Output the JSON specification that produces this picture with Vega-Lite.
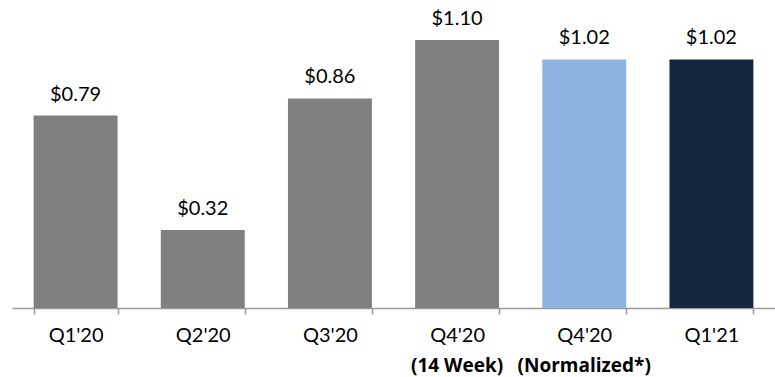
{
  "$schema": "https://vega.github.io/schema/vega-lite/v6.json",
  "width": 763,
  "height": 268,
  "autosize": {"type": "none"},
  "padding": {"left": 12, "top": 40, "right": 0, "bottom": 69},
  "background": "white",
  "config": {"view": {"stroke": null}},
  "data": {
    "values": [
      {"cat": "Q1'20", "sub": "", "eps": 0.79, "label": "$0.79", "grp": "a"},
      {"cat": "Q2'20", "sub": "", "eps": 0.32, "label": "$0.32", "grp": "a"},
      {"cat": "Q3'20", "sub": "", "eps": 0.86, "label": "$0.86", "grp": "a"},
      {"cat": "Q4'20|a", "sub": "(14 Week)", "eps": 1.10, "label": "$1.10", "grp": "a"},
      {"cat": "Q4'20|b", "sub": "(Normalized*)", "eps": 1.02, "label": "$1.02", "grp": "b"},
      {"cat": "Q1'21", "sub": "", "eps": 1.02, "label": "$1.02", "grp": "c"}
    ]
  },
  "encoding": {
    "x": {
      "field": "cat",
      "type": "nominal",
      "sort": null,
      "scale": {"paddingInner": 0.34, "paddingOuter": 0.17},
      "axis": {
        "title": null,
        "labelAngle": 0,
        "labelExpr": "split(datum.label, '|')[0]",
        "labelFont": "Lato",
        "labelFontSize": 20,
        "labelColor": "#000000",
        "labelPadding": 11,
        "labelBaseline": "top",
        "domainColor": "#9a9a9a",
        "domainWidth": 1.5,
        "tickColor": "#9a9a9a",
        "tickWidth": 1.5,
        "tickSize": 6,
        "tickBand": "extent",
        "grid": false
      }
    },
    "y": {
      "field": "eps",
      "type": "quantitative",
      "scale": {"domain": [0, 1.1], "nice": false},
      "axis": null
    }
  },
  "layer": [
    {
      "mark": {"type": "bar"},
      "encoding": {
        "color": {
          "field": "grp",
          "type": "nominal",
          "scale": {"domain": ["a", "b", "c"], "range": ["#808080", "#8EB4E3", "#13263F"]},
          "legend": null
        }
      }
    },
    {
      "mark": {"type": "text", "font": "Lato", "fontSize": 20, "dy": -15, "baseline": "alphabetic", "color": "#000000"},
      "encoding": {"text": {"field": "label"}}
    },
    {
      "mark": {"type": "text", "font": "Open Sans", "fontWeight": "bold", "fontSize": 19, "dy": 58, "baseline": "middle", "color": "#000000"},
      "encoding": {"text": {"field": "sub"}, "y": {"datum": 0}}
    }
  ]
}
